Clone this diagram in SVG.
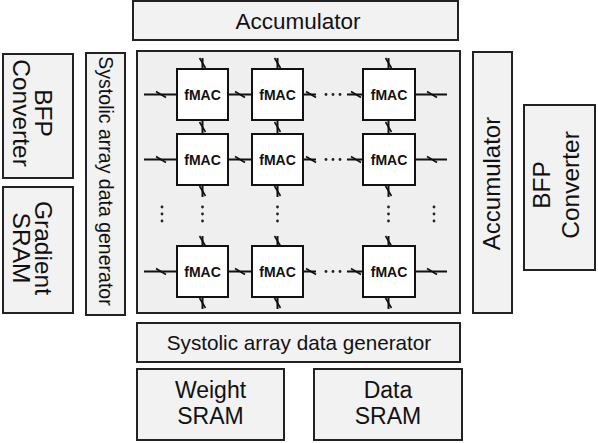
<svg xmlns="http://www.w3.org/2000/svg" width="598" height="443" viewBox="0 0 598 443">
<style>
.blk{fill:#f2f2f2;stroke:#222;stroke-width:2}
.arr{fill:#efefef;stroke:#222;stroke-width:2}
.mac{fill:#fff;stroke:#111;stroke-width:2}
.t{font-family:"Liberation Sans",Arial,sans-serif;fill:#111;text-anchor:middle}
.m{font-family:"Liberation Sans",Arial,sans-serif;font-weight:bold;font-size:14px;fill:#111;text-anchor:middle}
.w{stroke:#111;stroke-width:2;fill:none}
.k{stroke:#111;stroke-width:1.6;fill:none}
.d{fill:#222}
</style>
<defs>
<path id="th" d="M-5,-3L5,3" class="k"/>
<path id="tv" d="M-3,-5L3,5" class="k"/>
<g id="vd"><circle cx="0" cy="207" r="1.4" class="d"/><circle cx="0" cy="214" r="1.4" class="d"/><circle cx="0" cy="221" r="1.4" class="d"/></g>
<g id="hd"><circle cx="326" cy="0" r="1.4" class="d"/><circle cx="333" cy="0" r="1.4" class="d"/><circle cx="340" cy="0" r="1.4" class="d"/></g>
</defs>

<g id="acc-top"><rect class="blk" x="133" y="1" width="325" height="39"/><text class="t" x="298" y="28.5" font-size="22.5">Accumulator</text></g>

<g id="bfp-left"><rect class="blk" x="3" y="54" width="70" height="124"/>
<text class="t" font-size="24.5" transform="translate(38,113) rotate(90)"><tspan x="0" y="3">BFP</tspan><tspan x="0" y="25">Converter</tspan></text></g>

<g id="grad-sram"><rect class="blk" x="3" y="187" width="70" height="126"/>
<text class="t" font-size="24.5" transform="translate(38,248) rotate(90)"><tspan x="0" y="3">Gradient</tspan><tspan x="0" y="25">SRAM</tspan></text></g>

<g id="sadg-left"><rect class="blk" x="86" y="53" width="39" height="262"/>
<text class="t" font-size="19.5" transform="translate(105.5,181) rotate(90)" y="7">Systolic array data generator</text></g>

<g id="array"><rect class="arr" x="137" y="51" width="323" height="262"/></g>

<g id="acc-right"><rect class="blk" x="473" y="52" width="39" height="261"/>
<text class="t" font-size="24" transform="translate(492.5,183.5) rotate(-90)" y="7">Accumulator</text></g>

<g id="bfp-right"><rect class="blk" x="524" y="105" width="71" height="165"/>
<text class="t" font-size="24.5" transform="translate(559.5,185) rotate(-90)"><tspan x="0" y="-10">BFP</tspan><tspan x="0" y="19">Converter</tspan></text></g>

<g id="sadg-bottom"><rect class="blk" x="137" y="323" width="323" height="39"/><text class="t" x="299" y="350" font-size="20.7">Systolic array data generator</text></g>

<g id="weight-sram"><rect class="blk" x="137" y="369" width="147" height="71"/>
<text class="t" font-size="23" x="210.5" y="398">Weight</text><text class="t" font-size="23" x="210.5" y="424">SRAM</text></g>

<g id="data-sram"><rect class="blk" x="314" y="369" width="148" height="71"/>
<text class="t" font-size="23" x="388" y="398">Data</text><text class="t" font-size="23" x="388" y="424">SRAM</text></g>

<g id="connectors">
<path class="w" d="M144,94.5H177M228,94.5H252M303,94.5H316M347,94.5H363M415,94.5H447"/>
<path class="w" d="M144,159.5H177M228,159.5H252M303,159.5H316M347,159.5H363M415,159.5H447"/>
<path class="w" d="M144,271.5H177M228,271.5H252M303,271.5H316M347,271.5H363M415,271.5H447"/>
<path class="w" d="M202.5,58V69M202.5,120V134M202.5,185V197M202.5,236V246M202.5,297V309"/>
<path class="w" d="M277.5,58V69M277.5,120V134M277.5,185V197M277.5,236V246M277.5,297V309"/>
<path class="w" d="M388.5,58V69M388.5,120V134M388.5,185V197M388.5,236V246M388.5,297V309"/>
<use href="#th" x="161" y="94.5"/><use href="#th" x="240" y="94.5"/><use href="#th" x="311" y="94.5"/><use href="#th" x="356" y="94.5"/><use href="#th" x="432" y="94.5"/>
<use href="#th" x="161" y="159.5"/><use href="#th" x="240" y="159.5"/><use href="#th" x="311" y="159.5"/><use href="#th" x="356" y="159.5"/><use href="#th" x="432" y="159.5"/>
<use href="#th" x="161" y="271.5"/><use href="#th" x="240" y="271.5"/><use href="#th" x="311" y="271.5"/><use href="#th" x="356" y="271.5"/><use href="#th" x="432" y="271.5"/>
<use href="#tv" x="202.5" y="63"/><use href="#tv" x="202.5" y="127"/><use href="#tv" x="202.5" y="191"/><use href="#tv" x="202.5" y="241"/><use href="#tv" x="202.5" y="303"/>
<use href="#tv" x="277.5" y="63"/><use href="#tv" x="277.5" y="127"/><use href="#tv" x="277.5" y="191"/><use href="#tv" x="277.5" y="241"/><use href="#tv" x="277.5" y="303"/>
<use href="#tv" x="388.5" y="63"/><use href="#tv" x="388.5" y="127"/><use href="#tv" x="388.5" y="191"/><use href="#tv" x="388.5" y="241"/><use href="#tv" x="388.5" y="303"/>
<use href="#hd" y="94.5"/><use href="#hd" y="159.5"/><use href="#hd" y="271.5"/>
<use href="#vd" x="162"/><use href="#vd" x="202.5"/><use href="#vd" x="277.5"/><use href="#vd" x="388.5"/><use href="#vd" x="434"/>
</g>

<g id="fmac-1-1"><rect class="mac" x="177" y="69" width="51" height="51"/><text class="m" x="202.5" y="99.5">fMAC</text></g>
<g id="fmac-1-2"><rect class="mac" x="252" y="69" width="51" height="51"/><text class="m" x="277.5" y="99.5">fMAC</text></g>
<g id="fmac-1-n"><rect class="mac" x="363" y="69" width="52" height="51"/><text class="m" x="389" y="99.5">fMAC</text></g>
<g id="fmac-2-1"><rect class="mac" x="177" y="134" width="51" height="51"/><text class="m" x="202.5" y="164.5">fMAC</text></g>
<g id="fmac-2-2"><rect class="mac" x="252" y="134" width="51" height="51"/><text class="m" x="277.5" y="164.5">fMAC</text></g>
<g id="fmac-2-n"><rect class="mac" x="363" y="134" width="52" height="51"/><text class="m" x="389" y="164.5">fMAC</text></g>
<g id="fmac-m-1"><rect class="mac" x="177" y="246" width="51" height="51"/><text class="m" x="202.5" y="276.5">fMAC</text></g>
<g id="fmac-m-2"><rect class="mac" x="252" y="246" width="51" height="51"/><text class="m" x="277.5" y="276.5">fMAC</text></g>
<g id="fmac-m-n"><rect class="mac" x="363" y="246" width="52" height="51"/><text class="m" x="389" y="276.5">fMAC</text></g>
</svg>
